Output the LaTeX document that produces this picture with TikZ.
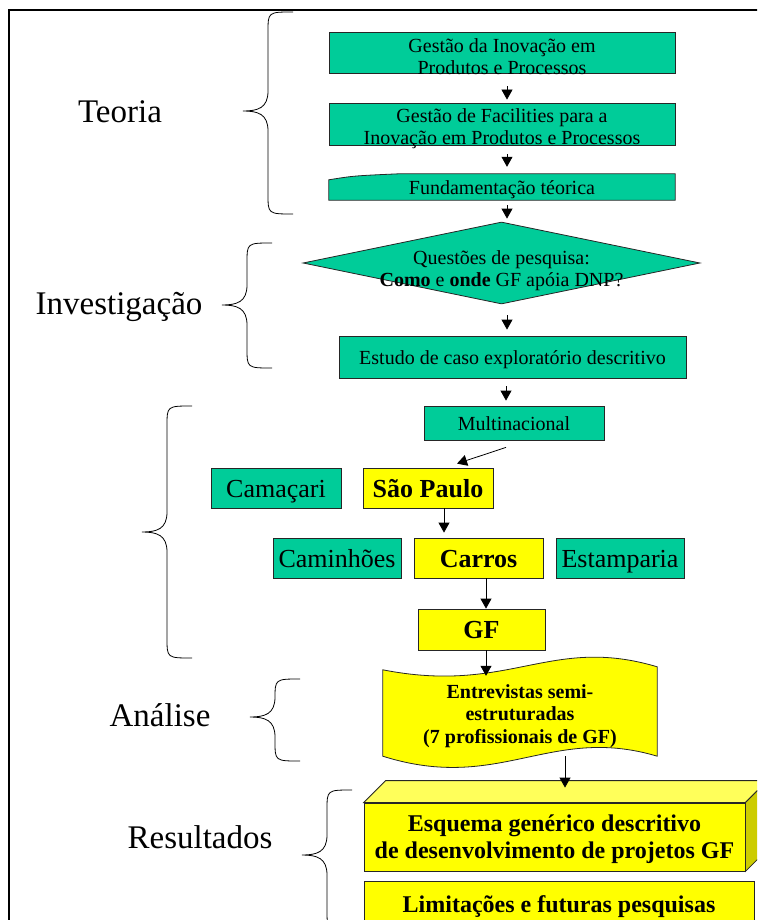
\documentclass[tikz,border=0pt]{standalone}
\usepackage{fontspec}
\setmainfont{Liberation Serif}
\usetikzlibrary{arrows.meta,shapes.geometric,backgrounds}
\definecolor{G1}{RGB}{0,204,153}
\definecolor{Y1}{RGB}{255,255,0}
\definecolor{Y2}{RGB}{255,255,90}
\definecolor{Y3}{RGB}{204,204,0}
% curly bracket opening to the right: x of the ends, top, tip, bottom
\newcommand{\sidebrace}[4]{%
  \draw[curly] (#1,#2) .. controls (#1-25,#2) .. (#1-25,#2+20)
    -- (#1-25,#3-20) .. controls (#1-25,#3-3) and (#1-35,#3) .. (#1-50,#3)
    .. controls (#1-35,#3) and (#1-25,#3+3) .. (#1-25,#3+20)
    -- (#1-25,#4-20) .. controls (#1-25,#4) .. (#1,#4);}
% pushes a block of lines down inside its box
\newcommand{\lowtop}[1]{\rule{0pt}{#1}}

\begin{document}
\begin{tikzpicture}[x=1pt, y=-1pt,
    edge/.style={draw=black!85, line width=0.8pt},
    gbox/.style={edge, fill=G1, inner sep=0pt, align=center,
                 font=\fontsize{20}{22}\selectfont},
    gline/.style={gbox, text height=17pt, text depth=2pt},
    bbox/.style={edge, fill=G1, inner sep=0pt, minimum width=128pt,
                 minimum height=40pt, text height=22pt, text depth=4pt,
                 font=\fontsize{26}{28}\selectfont},
    ybox/.style={bbox, fill=Y1, font=\fontsize{26}{28}\selectfont\bfseries},
    gtext/.style={inner sep=0pt, align=center, font=\fontsize{20}{22}\selectfont},
    side/.style={font=\fontsize{33}{36}\selectfont, anchor=mid},
    curly/.style={line width=0.8pt},
    arr/.style={-{Triangle[length=10pt,width=11pt]}, line width=0.8pt}]
  \useasboundingbox (0,0) rectangle (757,920);
  \clip (0,0) rectangle (757,920);
  \draw[line width=2pt] (9,921) -- (9,10) -- (758,10);

  % labels and brackets
  \node[side] (teoria) at (120,120) {Teoria};
  \node[side] (invest) at (119,312) {Investigação};
  \node[side] (anal) at (160,724) {Análise};
  \node[side] (result) at (200,846) {Resultados};
  \sidebrace{293}{12}{111}{214}
  \sidebrace{272}{243}{305}{368}
  \sidebrace{192}{406}{532}{658}
  \sidebrace{300}{679}{717}{761}
  \sidebrace{352}{790}{855}{930}

  % theory
  \node[gbox, minimum width=346pt, minimum height=41pt] (gim) at (502,52.5) {};
  \node[gtext] (gimtext) at ([yshift=-4pt]gim.center)
    {Gestão da Inovação em\\Produtos e Processos};
  \node[gbox, minimum width=346pt, minimum height=42pt] (gfac) at (502,124) {};
  \node[gtext] (gfactext) at ([yshift=-5pt]gfac.center)
    {Gestão de Facilities para a\\Inovação em Produtos e Processos};
  \node[gtext, text height=17pt, text depth=2pt, minimum width=346pt,
        minimum height=26pt] (fund) at (502,187) {Fundamentação téorica};
  \begin{scope}[on background layer]
    \draw[edge, fill=G1] (fund.south west) -- ([yshift=-6pt]fund.north west)
      .. controls +(25,-4) .. ([xshift=70pt]fund.north west)
      -- (fund.north east) -- (fund.south east) -- cycle;
  \end{scope}

  % investigation
  \node[diamond, edge, fill=G1, inner sep=0pt, minimum width=397pt,
        minimum height=82pt] (quest) at (501.5,263) {};
  \node[gtext] (qtext) at ([yshift=-8pt]quest.center)
    {Questões de pesquisa:\\\textbf{Como} e \textbf{onde} GF apóia DNP?};
  \node[gline, minimum width=347pt, minimum height=42pt] (estudo) at (512.5,357)
    {Estudo de caso exploratório descritivo};

  % case
  \node[gline, minimum width=180pt, minimum height=34pt] (multi) at (514,423)
    {Multinacional};
  \node[bbox, minimum width=130pt] (cama) at (276,488) {Camaçari};
  \node[ybox, minimum width=130pt] (sp) at (428,488) {São Paulo};
  \node[bbox] (caminh) at (337,558) {Caminhões};
  \node[ybox, minimum width=129pt] (carros) at (478.5,558) {Carros};
  \node[bbox] (estamp) at (620,558) {Estamparia};
  \node[ybox, minimum width=127pt, minimum height=41pt] (gf) at (481.5,629.5) {GF};

  % analysis
  \node[inner sep=0pt, minimum width=274pt, minimum height=86pt, align=center,
        font=\fontsize{20}{22.5}\selectfont\bfseries] (entrev) at (520,713)
    {\lowtop{20pt}Entrevistas semi-\\estruturadas\\(7 profissionais de GF)};
  \begin{scope}[on background layer]
    \draw[edge, fill=Y1] (entrev.north west)
      .. controls +(127,25) and +(-107,-32) .. ([yshift=3pt]entrev.north east)
      -- (entrev.south east)
      .. controls +(-107,-32) and +(117,37) .. (entrev.south west) -- cycle;
  \end{scope}

  % results
  \node[edge, fill=Y1, inner sep=0pt, minimum width=381pt, minimum height=68pt,
        align=center, font=\fontsize{24}{27}\selectfont\bfseries] (esq) at (554.5,837)
    {\lowtop{22pt}Esquema genérico descritivo\\de desenvolvimento de projetos GF};
  \draw[edge, fill=Y2] (esq.north west) -- ([xshift=22pt,yshift=22pt]esq.north west)
    -- ([xshift=22pt,yshift=22pt]esq.north east) -- (esq.north east) -- cycle;
  \draw[edge, fill=Y3] (esq.north east) -- ([xshift=22pt,yshift=22pt]esq.north east)
    -- ([xshift=22pt,yshift=22pt]esq.south east) -- (esq.south east) -- cycle;
  \node[edge, fill=Y1, inner sep=0pt, minimum width=390pt, minimum height=46pt,
        text height=20pt, text depth=3pt,
        font=\fontsize{24}{27}\selectfont\bfseries] (limit) at (559,904)
    {Limitações e futuras pesquisas};

  % arrows
  \draw[arr, shorten <=13pt, shorten >=3pt] ([xshift=5pt]gim.south) -- ([xshift=5pt]gfac.north);
  \draw[arr, shorten <=9pt, shorten >=7pt] ([xshift=5pt]gfac.south) -- ([xshift=5pt]fund.north);
  \draw[arr, shorten <=5pt, shorten >=3pt] ([xshift=5pt]fund.south) -- ([xshift=5.5pt]quest.north);
  \draw[arr, shorten <=11pt, shorten >=6pt] ([xshift=5.5pt]quest.south) -- ([xshift=-5.5pt]estudo.north);
  \draw[arr, shorten <=8pt, shorten >=5pt] ([xshift=-6.5pt]estudo.south) -- ([xshift=-8pt]multi.north);
  \draw[arr] ([xshift=-8pt,yshift=-7pt]multi.south) -- ([xshift=29pt,yshift=4pt]sp.north);
  \draw[arr, shorten >=5pt] ([xshift=16pt]sp.south) -- ([xshift=-34.5pt]carros.north);
  \draw[arr] ([xshift=7.5pt]carros.south) -- ([xshift=4.5pt]gf.north);
  \draw[arr] ([xshift=4.5pt]gf.south) -- ([xshift=-34pt,yshift=-6pt]entrev.north);
  \draw[arr] ([xshift=45pt]entrev.south) -- ([xshift=10.5pt,yshift=15pt]esq.north);
\end{tikzpicture}
\end{document}
